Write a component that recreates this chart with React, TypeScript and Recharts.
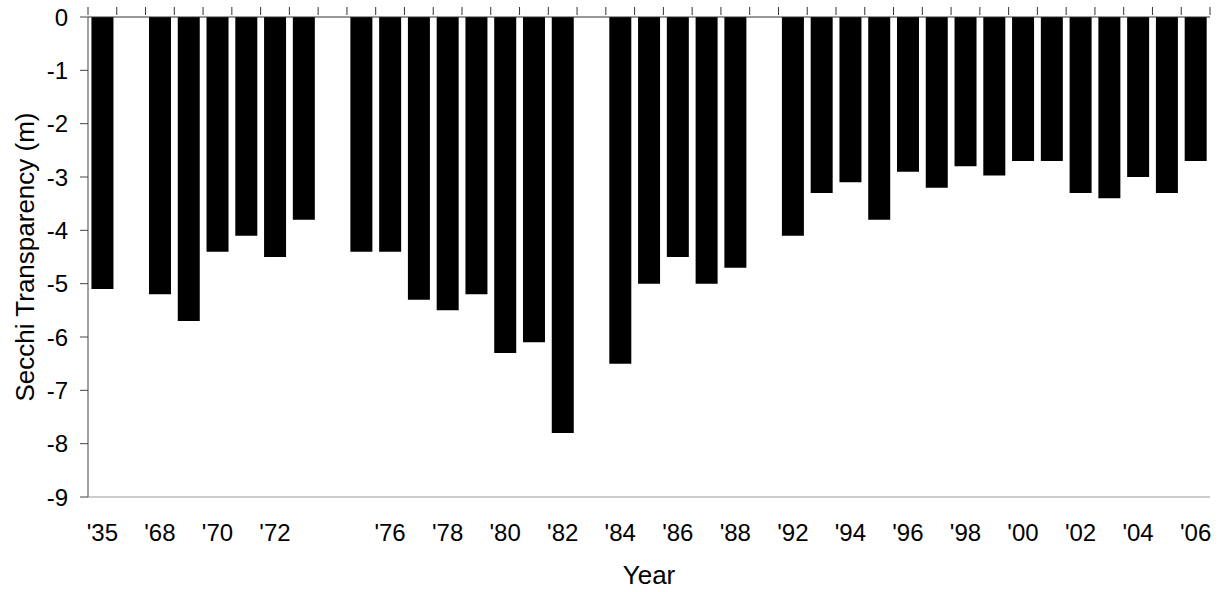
import React from 'react';
import { BarChart, Bar, XAxis, YAxis, Label } from 'recharts';

// category labels, blanks are the gaps in the record
const years = [
    "'35", '', "'68", "'69", "'70", "'71", "'72", "'73", '', "'75",
    "'76", "'77", "'78", "'79", "'80", "'81", "'82", "'83", "'84", "'85",
    "'86", "'87", "'88", '', "'92", "'93", "'94", "'95", "'96", "'97",
    "'98", "'99", "'00", "'01", "'02", "'03", "'04", "'05", "'06",
];

const secchi = [
    -5.1, null, -5.2, -5.7, -4.4, -4.1, -4.5, -3.8, null, -4.4,
    -4.4, -5.3, -5.5, -5.2, -6.3, -6.1, -7.8, null, -6.5, -5.0,
    -4.5, -5.0, -4.7, null, -4.1, -3.3, -3.1, -3.8, -2.9, -3.2,
    -2.8, -2.97, -2.7, -2.7, -3.3, -3.4, -3.0, -3.3, -2.7,
];

const yTicks = [0, -1, -2, -3, -4, -5, -6, -7, -8, -9];

const data = years.map((year, i) => ({ year, depth: secchi[i] }));

const W = 1220;
const H = 592;
const margin = { top: 16, right: 10, bottom: 0, left: 0 };
const yAxisWidth = 88;
const plotWidth = W - margin.left - margin.right - yAxisWidth;
const band = plotWidth / years.length;

const font = '"Liberation Sans", Arial, sans-serif';
const tickStyle = { fill: '#000', fontSize: 24, fontFamily: font };
const titleStyle = { fill: '#000', fontSize: 26, fontFamily: font };

// Excel style: marks on the zero line fall between the categories
const BoundaryTick = (props: any) => {
    const { x, y, index } = props;
    const left = x - band / 2;
    return (
        <g>
            <line x1={left} x2={left} y1={y} y2={y - 8} stroke="#333" />
            {index === years.length - 1 && (
                <line x1={x + band / 2} x2={x + band / 2} y1={y} y2={y - 8} stroke="#333" />
            )}
        </g>
    );
};

const App: React.FC = () => {
    return (
        <div style={{ position: 'absolute', left: 0, top: 0, background: '#fff' }}>
            <BarChart
                width={W}
                height={H}
                data={data}
                margin={margin}
                barCategoryGap="12%"
            >
                <XAxis
                    xAxisId="cat"
                    dataKey="year"
                    interval={1}
                    height={95}
                    tickLine={false}
                    tickSize={0}
                    tickMargin={27}
                    axisLine={{ stroke: '#999' }}
                    tick={tickStyle}
                >
                    <Label value="Year" position="insideBottom" offset={8} style={titleStyle} />
                </XAxis>
                <XAxis
                    xAxisId="top"
                    dataKey="year"
                    orientation="top"
                    interval={0}
                    height={1}
                    tickSize={0}
                    tickLine={false}
                    axisLine={{ stroke: '#333' }}
                    tick={<BoundaryTick />}
                />
                <YAxis
                    domain={[-9, 0]}
                    ticks={yTicks}
                    width={yAxisWidth}
                    tickSize={8}
                    tickMargin={12}
                    axisLine={{ stroke: '#444' }}
                    tickLine={{ stroke: '#444' }}
                    tick={tickStyle}
                >
                    <Label
                        value="Secchi Transparency (m)"
                        angle={-90}
                        position="insideLeft"
                        offset={25}
                        style={{ ...titleStyle, textAnchor: 'middle' }}
                    />
                </YAxis>
                <YAxis
                    yAxisId="right"
                    orientation="right"
                    domain={[-9, 0]}
                    width={0}
                    tick={false}
                    tickLine={false}
                    axisLine={{ stroke: '#999' }}
                />
                <Bar
                    xAxisId="cat"
                    dataKey="depth"
                    fill="#000"
                    isAnimationActive={false}
                />
            </BarChart>
        </div>
    );
};

export default App;
